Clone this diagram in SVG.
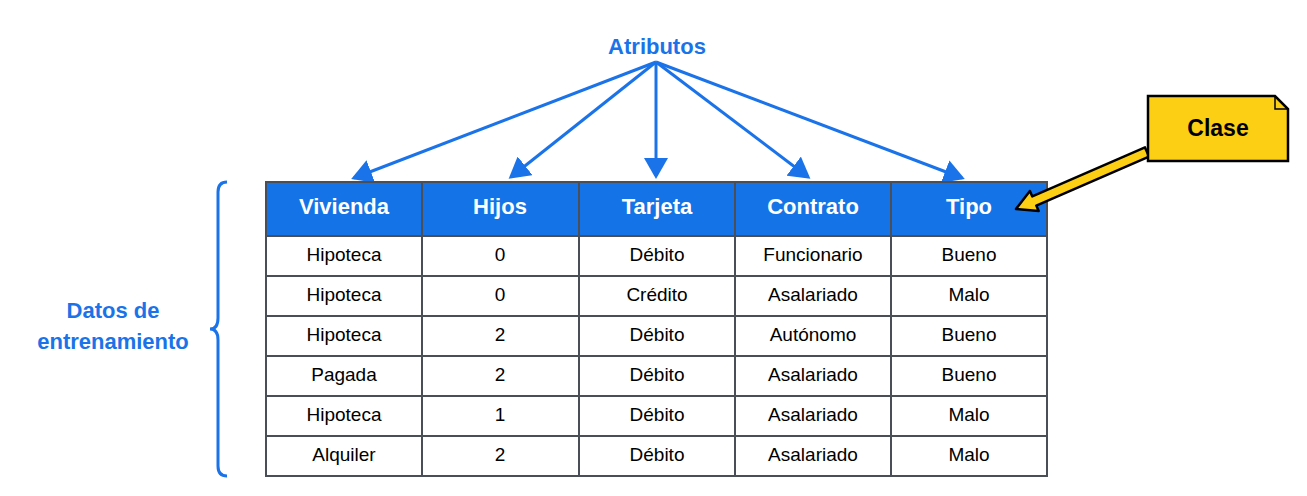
<svg xmlns="http://www.w3.org/2000/svg" width="1307" height="496" viewBox="0 0 1307 496">
<style>
text{font-family:"Liberation Sans",Arial,sans-serif;text-anchor:middle}
.h{fill:#fff;font-weight:bold;font-size:22px}
.c{fill:#000;font-size:19px}
.lbl{fill:#1a73e8;font-weight:bold;font-size:22px}
.con{stroke:#1a73e8;stroke-width:3;fill:none}
.grid{stroke:#4a4f57;stroke-width:2;fill:none}
</style>
<defs>
<marker id="ah" markerWidth="8" markerHeight="8" refX="6" refY="4" orient="auto" markerUnits="strokeWidth"><path d="M0,0 L7,4 L0,8 Z" fill="#1a73e8"/></marker>
</defs>
<rect width="1307" height="496" fill="#fff"/>
<g id="atributos"><text class="lbl" x="657" y="54">Atributos</text></g>
<g id="datos"><text class="lbl" x="113" y="318">Datos de</text><text class="lbl" x="113" y="349">entrenamiento</text></g>
<g id="connectors">
<line class="con" x1="656" y1="62" x2="354" y2="178" marker-end="url(#ah)"/>
<line class="con" x1="656" y1="62" x2="511" y2="177" marker-end="url(#ah)"/>
<line class="con" x1="656" y1="62" x2="656" y2="176" marker-end="url(#ah)"/>
<line class="con" x1="656" y1="62" x2="808" y2="177" marker-end="url(#ah)"/>
<line class="con" x1="656" y1="62" x2="962" y2="178" marker-end="url(#ah)"/>
<path class="con" d="M227,182 Q218,182 218,192 L218,318 Q218,329 210,329 Q218,329 218,340 L218,466 Q218,476 227,476"/>
</g>
<g id="tabla">
<rect x="266" y="182" width="781" height="54" fill="#1473e6"/>
<rect class="grid" x="266" y="182" width="781" height="294"/>
<path class="grid" d="M422,182V476M579,182V476M735,182V476M891,182V476M266,236H1047M266,276H1047M266,316H1047M266,356H1047M266,396H1047M266,436H1047"/>
<g class="h"><text x="344" y="214">Vivienda</text><text x="500" y="214">Hijos</text><text x="657" y="214">Tarjeta</text><text x="813" y="214">Contrato</text><text x="969" y="214">Tipo</text></g>
<g class="c">
<text x="344" y="261">Hipoteca</text><text x="500" y="261">0</text><text x="657" y="261">Débito</text><text x="813" y="261">Funcionario</text><text x="969" y="261">Bueno</text>
<text x="344" y="301">Hipoteca</text><text x="500" y="301">0</text><text x="657" y="301">Crédito</text><text x="813" y="301">Asalariado</text><text x="969" y="301">Malo</text>
<text x="344" y="341">Hipoteca</text><text x="500" y="341">2</text><text x="657" y="341">Débito</text><text x="813" y="341">Autónomo</text><text x="969" y="341">Bueno</text>
<text x="344" y="381">Pagada</text><text x="500" y="381">2</text><text x="657" y="381">Débito</text><text x="813" y="381">Asalariado</text><text x="969" y="381">Bueno</text>
<text x="344" y="421">Hipoteca</text><text x="500" y="421">1</text><text x="657" y="421">Débito</text><text x="813" y="421">Asalariado</text><text x="969" y="421">Malo</text>
<text x="344" y="461">Alquiler</text><text x="500" y="461">2</text><text x="657" y="461">Débito</text><text x="813" y="461">Asalariado</text><text x="969" y="461">Malo</text>
</g>
</g>
<g id="clase">
<polygon points="1145,147.4 1032.3,196.4 1029.9,191 1016,209 1038.7,211.1 1036.3,205.6 1149,156.6" fill="#fcce14" stroke="#000" stroke-width="2.5" stroke-linejoin="round"/>
<path d="M1148,96 H1275 L1288,109 V161 H1148 Z" fill="#fcce14" stroke="#000" stroke-width="2.5"/>
<path d="M1275,96 V109 H1288" fill="none" stroke="#000" stroke-width="1.5"/>
<text x="1218" y="136" style="font-weight:bold;font-size:23px;fill:#000">Clase</text>
</g>
</svg>
